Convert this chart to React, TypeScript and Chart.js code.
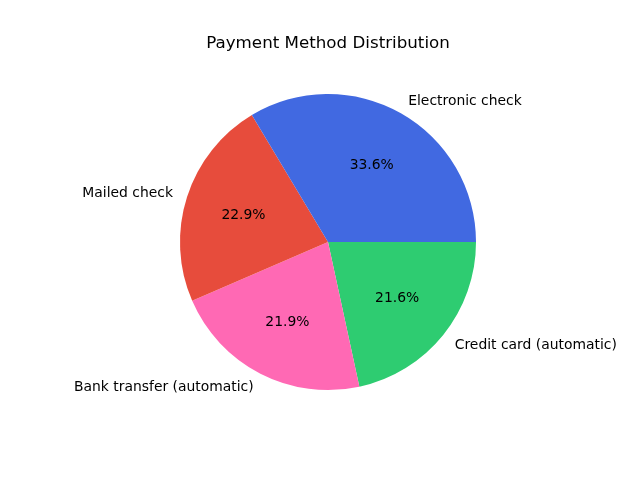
import React, { useEffect, useRef } from "react";
import { Chart, registerables } from "chart.js";

Chart.register(...registerables);

// Order as in the reference (counter-clockwise from 3 o'clock)
const categories = ["Electronic check", "Mailed check", "Bank transfer (automatic)", "Credit card (automatic)"];
const shares = [33.6, 22.9, 21.9, 21.6];
const colors = ["#4169E1", "#E74C3C", "#FF69B4", "#2ECC71"];
const titleText = "Payment Method Distribution";

const FONT = "'DejaVu Sans', sans-serif";

const labelPlugin = {
  id: "pieLabels",
  afterDraw(chart: any) {
    const ctx = chart.ctx;
    const meta = chart.getDatasetMeta(0);
    const labels = chart.data.labels as string[];
    const data = chart.data.datasets[0].data as number[];
    const total = data.reduce((a: number, b: number) => a + b, 0);
    ctx.save();
    meta.data.forEach((arc: any, i: number) => {
      const { x, y, startAngle, endAngle, outerRadius } = arc.getProps(
        ["x", "y", "startAngle", "endAngle", "outerRadius"],
        true
      );
      const mid = (startAngle + endAngle) / 2;
      const c = Math.cos(mid);
      const s = Math.sin(mid);
      // outer label
      ctx.font = `13.9px ${FONT}`;
      ctx.fillStyle = "#000";
      ctx.textBaseline = "middle";
      ctx.textAlign = c >= 0 ? "left" : "right";
      ctx.fillText(labels[i], x + 1.1 * outerRadius * c, y + 1.1 * outerRadius * s + 1);
      // percentage
      ctx.textAlign = "center";
      const pct = ((data[i] / total) * 100).toFixed(1) + "%";
      ctx.fillText(pct, x + 0.6 * outerRadius * c, y + 0.6 * outerRadius * s + 1);
    });
    // title
    const cx = meta.data[0].x;
    ctx.font = `16.7px ${FONT}`;
    ctx.textAlign = "center";
    ctx.textBaseline = "middle";
    ctx.fillText(titleText, cx, 44);
    ctx.restore();
  },
};

export default function App() {
  const ref = useRef<HTMLCanvasElement>(null);
  useEffect(() => {
    document.body.style.margin = "0";
    const canvas = ref.current!;
    // Chart.js draws clockwise, so reverse order and start at 3 o'clock
    const labels = [...categories].reverse();
    const values = [...shares].reverse();
    const bg = [...colors].reverse();
    const chart = new Chart(canvas, {
      type: "pie",
      data: {
        labels,
        datasets: [{ data: values, backgroundColor: bg, borderWidth: 0 }],
      },
      options: {
        responsive: false,
        animation: false,
        rotation: 90,
        layout: { padding: { left: 180, right: 164, top: 94, bottom: 90 } },
        plugins: {
          legend: { display: false },
          tooltip: { enabled: false },
          title: { display: false },
        },
      },
      plugins: [labelPlugin],
    });
    return () => chart.destroy();
  }, []);
  return (
    <div style={{ width: 640, height: 480, background: "#fff" }}>
      <canvas ref={ref} width={640} height={480} />
    </div>
  );
}
